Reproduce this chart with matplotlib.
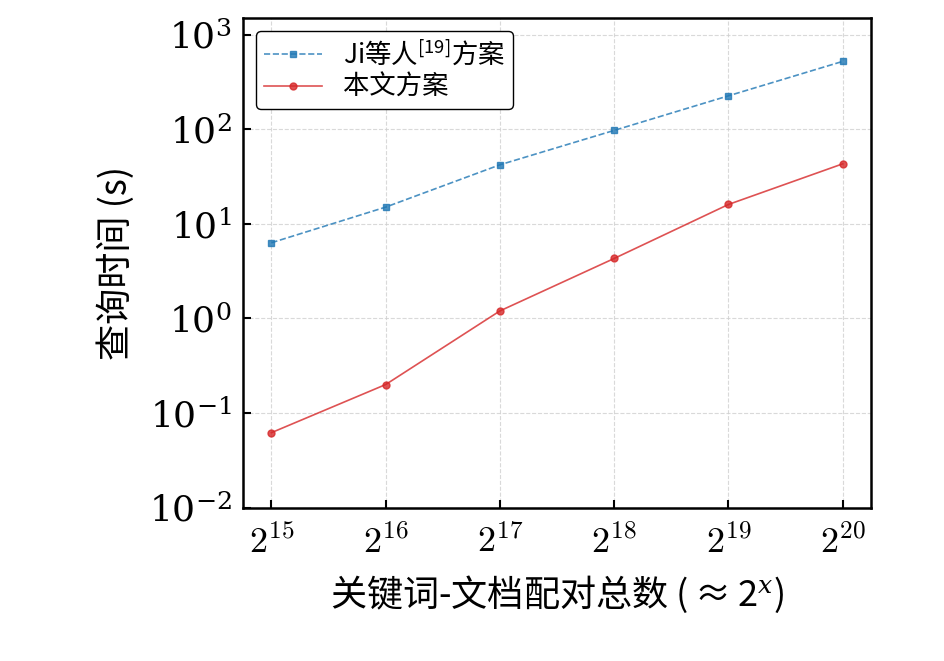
import matplotlib
matplotlib.use("Agg")
import matplotlib.pyplot as plt
from matplotlib.font_manager import FontProperties
from matplotlib.ticker import LogLocator, NullLocator

plt.rcParams["font.family"] = ["DejaVu Serif", "Noto Sans CJK SC"]
plt.rcParams["mathtext.fontset"] = "cm"
# used only for mixed Chinese + math texts
plt.rcParams["mathtext.rm"] = "Noto Sans CJK SC"
plt.rcParams["mathtext.it"] = "DejaVu Serif:italic"
plt.rcParams["mathtext.bf"] = "Noto Sans CJK SC:bold"

exponents = [15, 16, 17, 18, 19, 20]
ji_times = [6.3, 15, 42, 97, 225, 520]
our_times = [0.062, 0.2, 1.2, 4.3, 16, 43]
xtick_labels = [rf"$2^{{{e}}}$" for e in exponents]

fig = plt.figure(figsize=(9.45, 6.61), dpi=100)
ax = fig.add_axes([0.257, 0.232, 0.665, 0.741])

ax.plot(exponents, ji_times, ls="--", marker="s", ms=5, lw=1.2, color="#1f77b4",
        alpha=0.8, label=r"Ji等人$^{[19]}$方案")
ax.plot(exponents, our_times, ls="-", marker="o", ms=5, lw=1.2, color="#d62728",
        alpha=0.8, label="本文方案")

ax.set_yscale("log")
ax.set_ylim(1e-2, 1.5e3)
ax.set_xlim(14.75, 20.25)
ax.yaxis.set_major_locator(LogLocator(base=10, numticks=10))
ax.yaxis.set_minor_locator(NullLocator())
ax.set_xticks(exponents)
ax.set_xticklabels(xtick_labels)
ax.tick_params(direction="in", labelsize=26, length=6, width=1.5, pad=12)
ax.tick_params(axis="y", pad=8)
for s in ax.spines.values():
    s.set_linewidth(1.8)
ax.grid(True, ls="--", color="#d0d0d0", lw=0.8, alpha=0.8)

ax.set_xlabel(r"关键词-文档配对总数 ($\approx 2^x$)", fontsize=26, labelpad=10,
              family=["Noto Sans CJK SC", "DejaVu Serif"], math_fontfamily="custom")
ax.set_ylabel("查询时间 (s)", fontsize=26, labelpad=10,
              family=["Noto Sans CJK SC", "DejaVu Serif"])

leg_font = FontProperties(family=["Noto Sans CJK SC", "DejaVu Serif"], size=19,
                          math_fontfamily="custom")
leg = ax.legend(loc="upper left", prop=leg_font, frameon=True, edgecolor="black",
                fancybox=True, framealpha=1, handlelength=2.2,
                borderpad=0.3, labelspacing=0.2)
leg.get_frame().set_linewidth(1.0)

fig.savefig("out.png", dpi=100)
